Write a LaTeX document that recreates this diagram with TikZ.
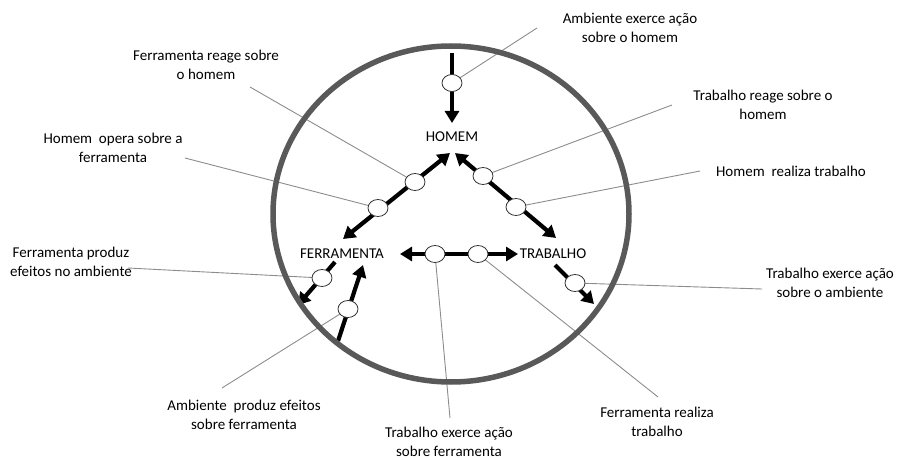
\documentclass[tikz,border=0pt]{standalone}
\usepackage{fontspec}
\setmainfont{Carlito}
\usetikzlibrary{arrows.meta,shapes.geometric}
\pgfdeclarelayer{bg}
\pgfsetlayers{bg,main}
\definecolor{ringgray}{HTML}{595959}
\definecolor{leadgray}{HTML}{8C8C8C}
\tikzset{
  lbl/.style={align=center,font=\fontsize{15}{18.5}\selectfont,text=black,inner sep=0pt},
  term/.style={font=\fontsize{15}{18}\selectfont,text=black,inner sep=0pt},
  oval/.style={ellipse,draw=black!80,fill=white,line width=0.8pt,minimum width=20pt,minimum height=17pt,inner sep=0pt},
  leader/.style={draw=leadgray,line width=0.9pt},
  bigarrow/.style={line width=4.2pt,black},
  tip/.tip={Triangle[length=12pt,width=14pt]},
  ring/.style={draw=ringgray,line width=5.5pt}
}
\begin{document}
\begin{tikzpicture}[x=1pt,y=-1pt]
\useasboundingbox (0,0) rectangle (903,460);
% ring
\draw[ring] (451,214) ellipse [x radius=178pt, y radius=168pt];
% centre terms
\node[term] (homem) at (452,137) {HOMEM};
\node[term] (ferr) at (342,254) {FERRAMENTA};
\node[term] (trab) at (553,254) {TRABALHO};
% arrow end points
\coordinate (t0) at (452,53);
\coordinate (t1) at (452,123);
\coordinate (apL) at (450,153);
\coordinate (ftip) at (343,239);
\coordinate (apR) at (455,153);
\coordinate (ttip) at (556,238);
\coordinate (hL) at (400,254);
\coordinate (hR) at (518,254);
\coordinate (d0) at (335,262);
\coordinate (d1) at (298,305);
\coordinate (u0) at (338,341);
\coordinate (u1) at (363,265);
\coordinate (r0) at (555,265);
\coordinate (r1) at (594,304);
% small ovals
\node[oval] (e1) at (452,83) {};
\node[oval] (e2) at (415,182) {};
\node[oval] (e3) at (378,208) {};
\node[oval] (e4) at (483,176) {};
\node[oval] (e5) at (516,207) {};
\node[oval] (e6) at (435,254) {};
\node[oval] (e7) at (478,254) {};
\node[oval] (e8) at (322,278) {};
\node[oval] (e9) at (348,309) {};
\node[oval] (e10) at (575,283) {};
% labels
\node[lbl] (l1) at (630,28) {Ambiente exerce ação\\sobre o homem};
\node[lbl] (l2) at (206,65) {Ferramenta\ reage sobre\\o homem};
\node[lbl] (l3) at (113,148) {Homem\ \ opera sobre a\\ferramenta};
\node[lbl] (l4) at (71,262) {Ferramenta\ produz\\efeitos no ambiente};
\node[lbl] (l5) at (763,105) {Trabalho reage sobre o\\homem};
\node[lbl] (l6) at (791,171) {Homem\ \ realiza trabalho};
\node[lbl] (l7) at (830,283) {Trabalho exerce ação\\sobre o ambiente};
\node[lbl] (l8) at (657,422) {Ferramenta\ realiza\\trabalho};
\node[lbl] (l9) at (449,442) {Trabalho exerce ação\\sobre ferramenta};
\node[lbl] (l10) at (244,415) {Ambiente\ \ produz efeitos\\sobre ferramenta};
% leader ends
\coordinate (c1) at (537,28);
\coordinate (c2) at (250,87);
\coordinate (c3) at (185,158);
\coordinate (c4) at (128,268);
\coordinate (c5) at (672,105);
\coordinate (c6) at (700,171);
\coordinate (c7) at (762,289);
\coordinate (c8) at (658,397);
\coordinate (c9) at (450,418);
\coordinate (c10) at (222,388);
\begin{pgfonlayer}{bg}
  \draw[leader] (e1.center) -- (c1);
  \draw[leader] (e2.center) -- (c2);
  \draw[leader] (e3.center) -- (c3);
  \draw[leader] (e8.center) -- (c4);
  \draw[leader] (e4.center) -- (c5);
  \draw[leader] (e5.center) -- (c6);
  \draw[leader] (e10.center) -- (c7);
  \draw[leader] (e7.center) -- (c8);
  \draw[leader] (e6.center) -- (c9);
  \draw[leader] (e9.center) -- (c10);
  \draw[bigarrow,-tip] (t0) -- (t1);
  \draw[bigarrow,tip-tip] (apL) -- (ftip);
  \draw[bigarrow,tip-tip] (apR) -- (ttip);
  \draw[bigarrow,tip-tip] (hL) -- (hR);
  \draw[bigarrow,-tip] (d0) -- (d1);
  \draw[bigarrow,-tip] (u0) -- (u1);
  \draw[bigarrow,-tip] (r0) -- (r1);
\end{pgfonlayer}
\end{tikzpicture}
\end{document}
